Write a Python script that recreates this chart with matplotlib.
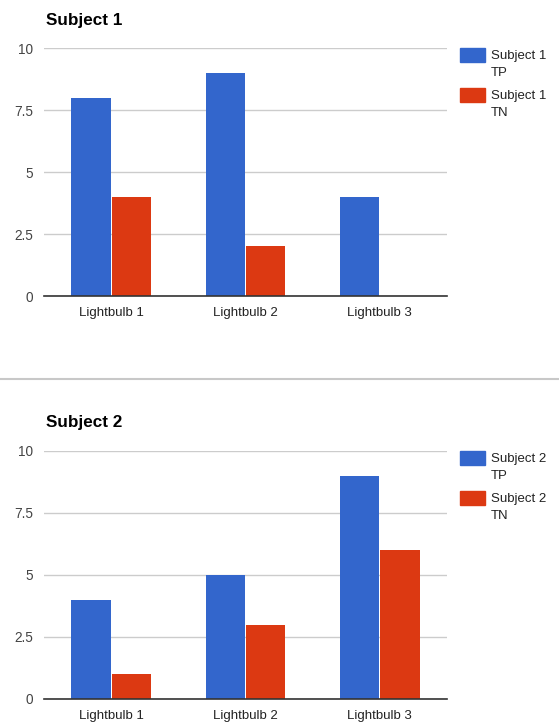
"""Two grouped bar charts: TP / TN counts per lightbulb for two subjects."""
import matplotlib.pyplot as plt
from matplotlib.patches import Rectangle
from matplotlib.lines import Line2D

plt.rcParams["font.family"] = ["Liberation Sans", "DejaVu Sans"]

lightbulbs = ["Lightbulb 1", "Lightbulb 2", "Lightbulb 3"]
subject1_tp = [8, 9, 4]
subject1_tn = [4, 2, 0]
subject2_tp = [4, 5, 9]
subject2_tn = [1, 3, 6]
y_ticks = [0, 2.5, 5, 7.5, 10]

BLUE = "#3366CC"
RED = "#DC3912"
W, H = 559, 722


def fx(x):
    return x / W


def fy(y):
    return 1 - y / H


def bar_panel(fig, top, title, name, tp, tn):
    # plot area in pixel terms: x 44..447, value 10 at `top`, 0 at top+248
    ax = fig.add_axes([fx(44), fy(top + 248), fx(403), 248 / H])
    xs = range(len(lightbulbs))
    bw = 0.3
    ax.bar([x - bw / 2 for x in xs], tp, width=bw - 0.009, color=BLUE, zorder=3)
    ax.bar([x + bw / 2 for x in xs], tn, width=bw - 0.009, color=RED, zorder=3)
    ax.set_xlim(-0.5, len(lightbulbs) - 0.5)
    ax.set_ylim(0, 10)
    ax.set_yticks(y_ticks, ["0", "2.5", "5", "7.5", "10"])
    ax.set_xticks(list(xs), lightbulbs)
    ax.tick_params(axis="y", length=0, pad=8, labelsize=9.8, labelcolor="#444444")
    ax.tick_params(axis="x", length=0, pad=8, labelsize=9.5, labelcolor="#222222")
    for s in ["top", "right", "left"]:
        ax.spines[s].set_visible(False)
    ax.spines["bottom"].set_color("#333333")
    ax.spines["bottom"].set_linewidth(1.2)
    ax.spines["bottom"].set_zorder(4)
    ax.grid(axis="y", color="#CCCCCC", linewidth=1, zorder=0)
    ax.set_axisbelow(True)

    fig.text(fx(46), fy(top - 28), title, fontsize=12.3, fontweight="bold",
             va="center", ha="left", color="black")

    # legend to the right of the plot area
    for i, (lab, col) in enumerate([("TP", BLUE), ("TN", RED)]):
        y0 = top + i * 40
        fig.patches.append(Rectangle((fx(460), fy(y0 + 14)), fx(25), 14 / H,
                                     color=col, transform=fig.transFigure))
        fig.text(fx(491), fy(y0 + 8), name, fontsize=9.5, va="center",
                 ha="left", color="#222222")
        fig.text(fx(491), fy(y0 + 25), lab, fontsize=9.5, va="center",
                 ha="left", color="#222222")
    return ax


fig = plt.figure(figsize=(W / 100, H / 100), dpi=100)
bar_panel(fig, 48, "Subject 1", "Subject 1", subject1_tp, subject1_tn)
bar_panel(fig, 451, "Subject 2", "Subject 2", subject2_tp, subject2_tn)

# divider between the two charts
fig.lines.append(Line2D([0, 1], [fy(379), fy(379)], color="#C8C8C8",
                        linewidth=1.5, transform=fig.transFigure))

fig.savefig("out.png", dpi=100)
